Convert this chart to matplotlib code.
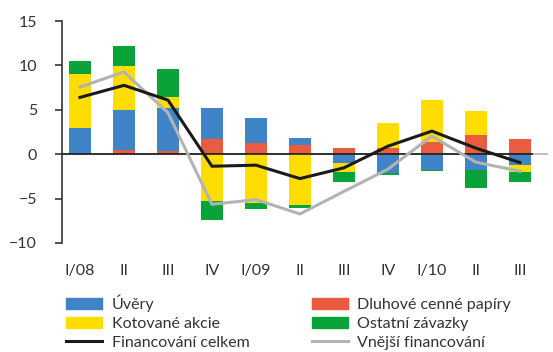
import matplotlib.pyplot as plt
import numpy as np
from matplotlib.lines import Line2D
from matplotlib.patches import Patch

plt.rcParams["font.family"] = ["Lato", "DejaVu Sans"]

quarters = ["I/08", "II", "III", "IV", "I/09", "II", "III", "IV", "I/10", "II", "III"]

# components of corporate financing (% of GDP)
dluhove = [0.0, 0.45, 0.34, 1.69, 1.24, 1.02, 0.68, 0.68, 1.36, 2.15, 1.69]
uvery = [3.0, 4.52, 4.86, 3.5, 2.83, 0.79, -1.02, -2.15, -1.73, -1.81, -1.24]
akcie = [6.06, 4.97, 1.24, -5.31, -5.5, -5.76, -1.02, 2.82, 4.75, 2.71, -0.79]
ostatni = [1.47, 2.26, 3.16, -2.15, -0.71, -0.34, -1.13, -0.19, -0.19, -2.03, -1.13]

celkem = [6.4, 7.76, 6.1, -1.36, -1.24, -2.75, -1.54, 0.9, 2.6, 0.68, -0.94]
vnejsi = [7.57, 9.27, 4.67, -5.65, -5.12, -6.74, -4.2, -1.69, 2.03, -0.9, -1.92]

C_BLUE = "#3F84C6"
C_RED = "#E95C3F"
C_YELLOW = "#FFDD00"
C_GREEN = "#0AA33A"
C_BLACK = "#1A1A1A"
C_GRAY = "#B3B3B3"
TEXT = "#333333"
FS = 11.5

fig = plt.figure(figsize=(5.53, 3.52), dpi=100)
ax = fig.add_axes([0.112, 0.310, 0.879, 0.630])

x = np.arange(len(quarters))
width = 0.5
pos_base = np.zeros(len(x))
neg_base = np.zeros(len(x))
for vals, col in [(dluhove, C_RED), (uvery, C_BLUE), (akcie, C_YELLOW), (ostatni, C_GREEN)]:
    v = np.array(vals)
    bottom = np.where(v >= 0, pos_base, neg_base)
    ax.bar(x, v, width, bottom=bottom, color=col, linewidth=0, zorder=2)
    pos_base += np.where(v >= 0, v, 0)
    neg_base += np.where(v < 0, v, 0)

ax.axhline(0, color=C_GRAY, lw=1.2, zorder=1)
ax.hlines(0, -0.41, 10.3, color=C_BLACK, lw=1.2, zorder=3)

ax.plot(x, vnejsi, color=C_GRAY, lw=2.2, zorder=4)
ax.plot(x, celkem, color=C_BLACK, lw=2.2, zorder=5)

ax.set_xlim(-0.41, 10.64)
ax.set_ylim(-10, 15)
ax.set_yticks([-10, -5, 0, 5, 10, 15])
ax.set_xticks(x)
ax.set_xticklabels(quarters)
ax.tick_params(axis="x", length=0, pad=15, labelsize=FS, colors=TEXT)
ax.tick_params(axis="y", length=5, width=1.2, color="#333333", labelsize=FS, colors=TEXT, pad=13)
for side in ["top", "right", "bottom"]:
    ax.spines[side].set_visible(False)
ax.spines["left"].set_color("#333333")
ax.spines["left"].set_linewidth(1.2)

# legend: two columns, filled in column order
handles = [
    Patch(color=C_BLUE, label="Úvěry"),
    Patch(color=C_YELLOW, label="Kotované akcie"),
    Line2D([], [], color=C_BLACK, lw=2.2, label="Financování celkem"),
    Patch(color=C_RED, label="Dluhové cenné papíry"),
    Patch(color=C_GREEN, label="Ostatní závazky"),
    Line2D([], [], color=C_GRAY, lw=2.2, label="Vnější financování"),
]
leg = fig.legend(handles=handles, loc="upper left", bbox_to_anchor=(66 / 553, 0.163),
                 ncol=2, frameon=False, fontsize=FS, handlelength=2.25, handleheight=0.7,
                 labelspacing=0.3, columnspacing=3.9, handletextpad=0.6,
                 borderaxespad=0, borderpad=0)
for t in leg.get_texts():
    t.set_color(TEXT)

fig.savefig("out.png", dpi=100)
